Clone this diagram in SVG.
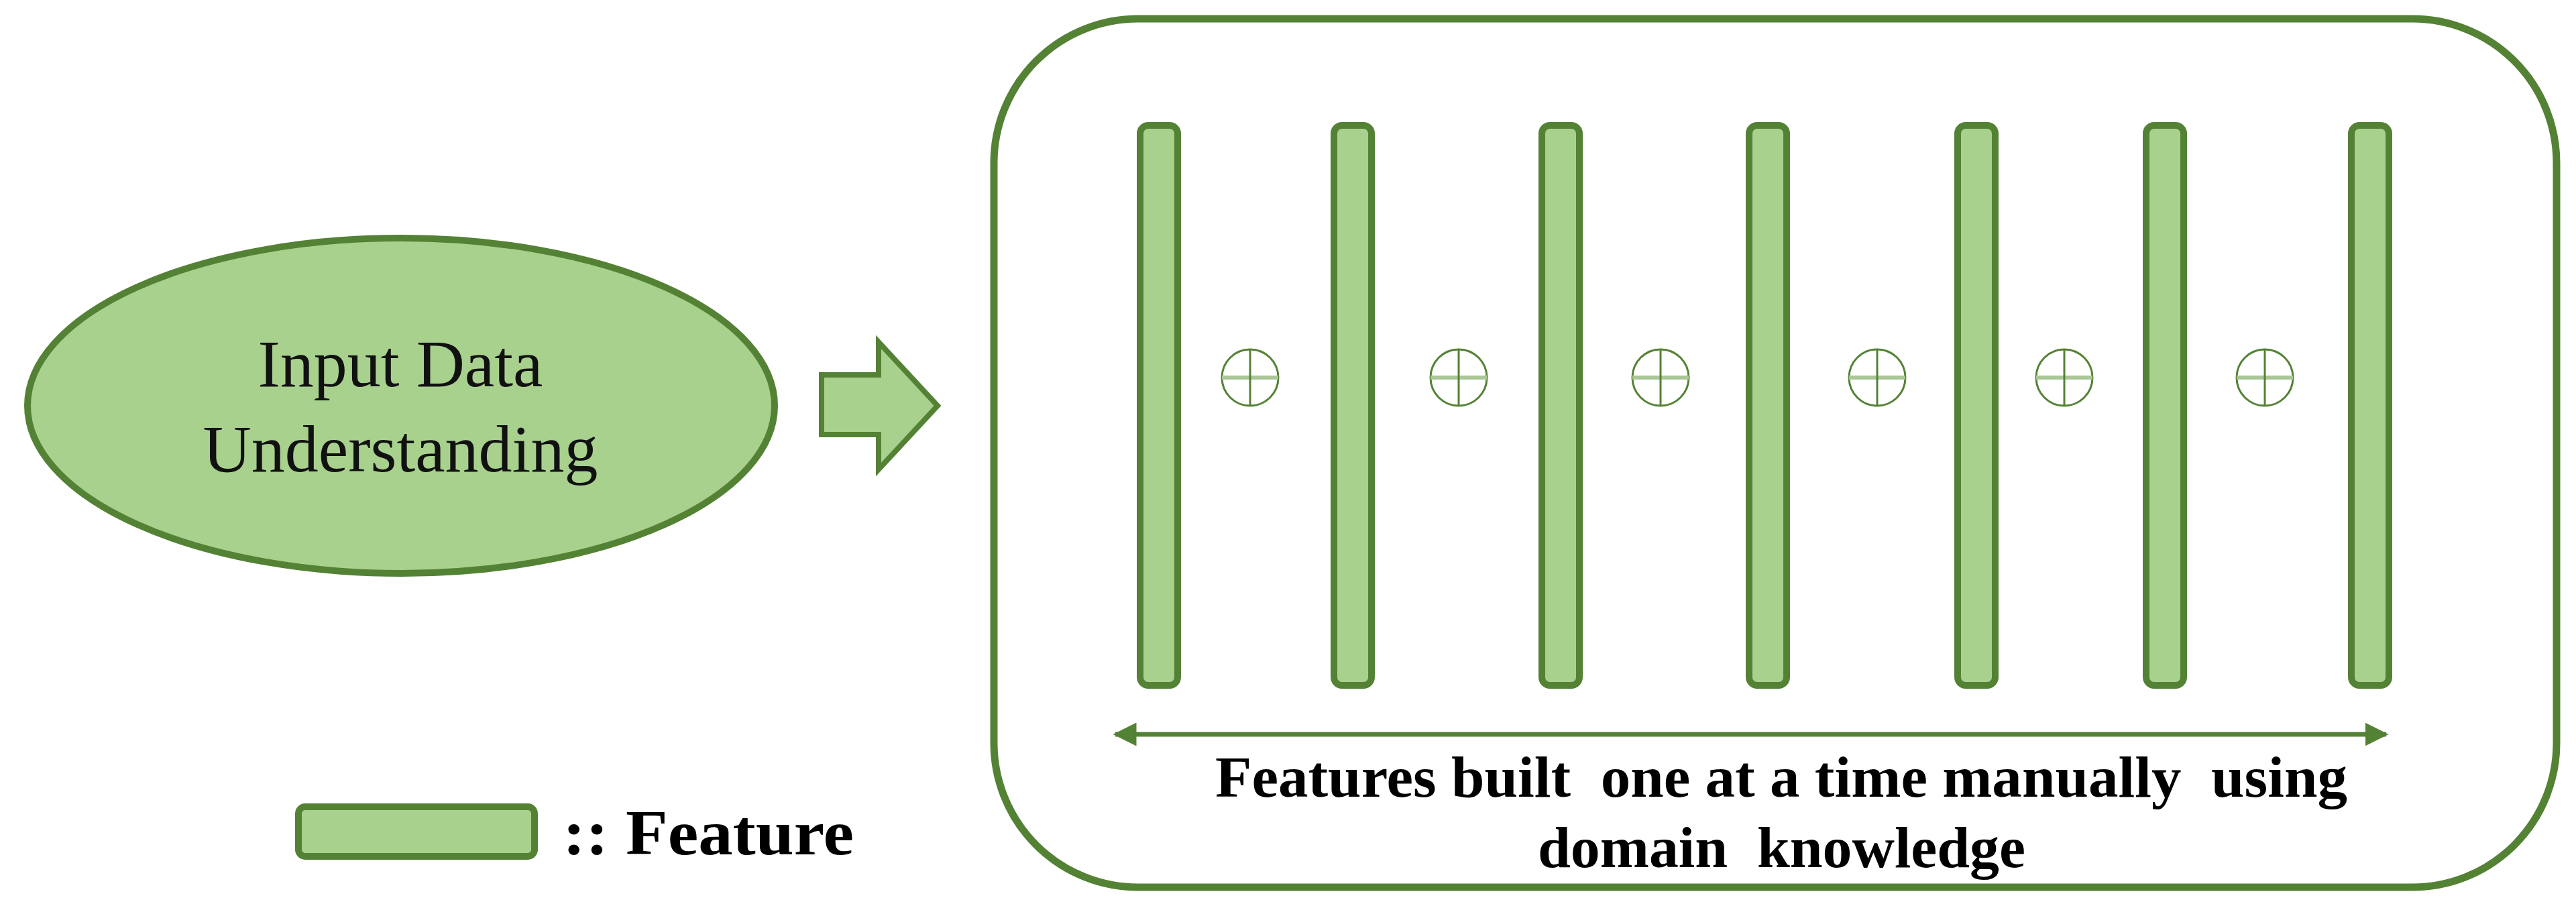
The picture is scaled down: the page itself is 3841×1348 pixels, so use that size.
<svg xmlns="http://www.w3.org/2000/svg" width="3841" height="1348" viewBox="0 0 3841 1348">
<style>
.f{fill:#a9d18e;stroke:#548235}
.bar{fill:#a9d18e;stroke:#548235;stroke-width:10}
.t{font-family:"Liberation Serif",serif;fill:#111}
.b{font-family:"Liberation Serif",serif;font-weight:bold;fill:#000;white-space:pre}
.op circle{fill:none;stroke:#548235;stroke-width:3}
</style>
<defs>
<marker id="ah" viewBox="0 0 10 10" refX="9" refY="5" markerWidth="5" markerHeight="5" orient="auto-start-reverse" markerUnits="strokeWidth">
<path d="M0,0 L10,5 L0,10 z" fill="#548235"/>
</marker>
<g id="oplus" class="op">
<circle cx="0" cy="0" r="42"/>
<line x1="-42" y1="0" x2="42" y2="0" stroke="#a9c795" stroke-width="6"/>
<line x1="0" y1="-42" x2="0" y2="42" stroke="#548235" stroke-width="3"/>
</g>
</defs>
<g id="input">
<ellipse class="f" stroke-width="10" cx="598" cy="605" rx="557" ry="250"/>
<text class="t" x="597" y="576" font-size="100" text-anchor="middle">Input Data</text>
<text class="t" x="597" y="703" font-size="100" text-anchor="middle">Understanding</text>
</g>
<g id="arrow">
<path class="f" stroke-width="8" d="M1225,559 L1310,559 L1310,510 L1398,605 L1310,700 L1310,648 L1225,648 Z"/>
</g>
<g id="box">
<rect x="1482" y="28" width="2330" height="1295" rx="215" ry="215" fill="none" stroke="#548235" stroke-width="11"/>
</g>
<g id="features">
<rect class="bar" x="1700" y="187" width="56" height="835" rx="12"/>
<rect class="bar" x="1989" y="187" width="56" height="835" rx="12"/>
<rect class="bar" x="2299" y="187" width="56" height="835" rx="12"/>
<rect class="bar" x="2608" y="187" width="56" height="835" rx="12"/>
<rect class="bar" x="2919" y="187" width="56" height="835" rx="12"/>
<rect class="bar" x="3200" y="187" width="56" height="835" rx="12"/>
<rect class="bar" x="3506" y="187" width="56" height="835" rx="12"/>
</g>
<g id="ops">
<use href="#oplus" x="1864" y="563"/>
<use href="#oplus" x="2175" y="563"/>
<use href="#oplus" x="2476" y="563"/>
<use href="#oplus" x="2799" y="563"/>
<use href="#oplus" x="3078" y="563"/>
<use href="#oplus" x="3377" y="563"/>
</g>
<g id="connectors">
<line x1="1663" y1="1095" x2="3558" y2="1095" stroke="#548235" stroke-width="7" marker-start="url(#ah)" marker-end="url(#ah)"/>
</g>
<g id="caption">
<text class="b" x="1812" y="1188" font-size="86" textLength="1688" lengthAdjust="spacingAndGlyphs">Features built  one at a time manually  using</text>
<text class="b" x="2293" y="1293" font-size="86" textLength="727" lengthAdjust="spacingAndGlyphs">domain  knowledge</text>
</g>
<g id="legend">
<rect class="f" stroke-width="10" x="445" y="1203" width="352" height="74" rx="10"/>
<text class="b" x="839" y="1274" font-size="95" textLength="434" lengthAdjust="spacingAndGlyphs">:: Feature</text>
</g>
</svg>
